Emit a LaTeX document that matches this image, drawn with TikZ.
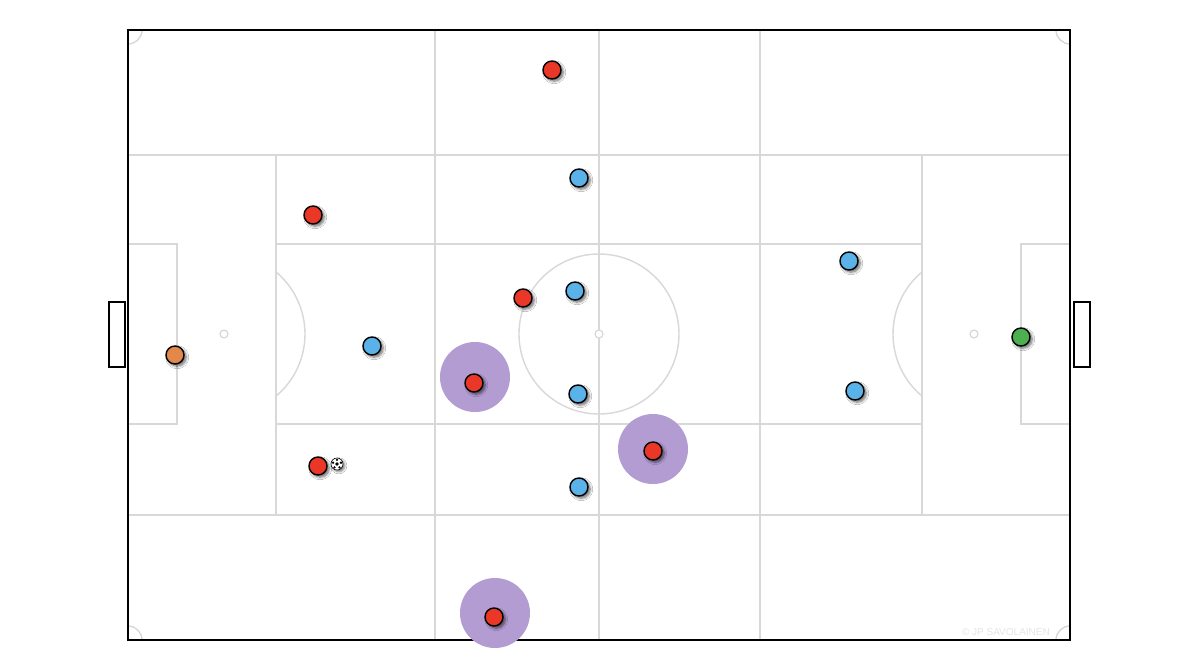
\documentclass[tikz,border=0pt]{standalone}
\usepackage{fontspec}
\setsansfont{Liberation Sans}
\usetikzlibrary{shadows.blur}
\definecolor{lineg}{RGB}{216,216,216}
\definecolor{pred}{RGB}{235,55,40}
\definecolor{pblue}{RGB}{90,178,232}
\definecolor{porange}{RGB}{226,136,74}
\definecolor{pgreen}{RGB}{76,176,80}
\definecolor{halo}{RGB}{178,156,210}
\tikzset{
  field/.style={draw=lineg, line width=1.4pt},
  outline/.style={draw=black, line width=2pt},
  player/.style={circle, draw=black, line width=1.4pt, minimum size=18pt, inner sep=0pt,
    blur shadow={shadow xshift=2.2pt, shadow yshift=-2.2pt, shadow blur radius=2.5pt, shadow blur steps=8, shadow opacity=60}},
  redp/.style={player, fill=pred},
  bluep/.style={player, fill=pblue},
  orangep/.style={player, fill=porange},
  greenp/.style={player, fill=pgreen},
  halostyle/.style={circle, fill=halo, minimum size=70pt, inner sep=0pt},
  spot/.style={circle, draw=lineg, fill=white, line width=1.2pt, minimum size=8pt, inner sep=0pt},
}
\begin{document}
\begin{tikzpicture}[x=1pt,y=-1pt]
\useasboundingbox (0,0) rectangle (1200,669);
\fill[white] (0,0) rectangle (1200,669);
% field markings
\draw[field] (128,155) -- (1070,155);
\draw[field] (128,515) -- (1070,515);
\draw[field] (128,244) -- (177,244) -- (177,424) -- (128,424);
\draw[field] (1070,244) -- (1021,244) -- (1021,424) -- (1070,424);
\draw[field] (276,244) -- (922,244);
\draw[field] (276,424) -- (922,424);
\draw[field] (276,155) -- (276,515);
\draw[field] (922,155) -- (922,515);
\draw[field] (435,30) -- (435,640);
\draw[field] (599,30) -- (599,640);
\draw[field] (760,30) -- (760,640);
\draw[field] (599,334) circle[radius=80];
\draw[field] (224,334) ++(-50:81) arc[start angle=-50, end angle=50, radius=81];
\draw[field] (974,334) ++(130:81) arc[start angle=130, end angle=230, radius=81];
% corner arcs
\draw[field] (142,30) arc[start angle=0, end angle=90, radius=14];
\draw[field] (1056,30) arc[start angle=180, end angle=90, radius=14];
\draw[field] (142,640) arc[start angle=0, end angle=-90, radius=14];
\draw[field] (1056,640) arc[start angle=180, end angle=270, radius=14];
\node[spot] (ps1) at (224,334) {};
\node[spot] (ps2) at (974,334) {};
\node[spot] (cs) at (599,334) {};
% outer line and goals
\draw[outline] (128,30) rectangle (1070,640);
\draw[outline] (109,302) rectangle (125,367);
\draw[outline] (1074,302) rectangle (1090,367);
% watermark
\node[text=black!10, font=\sffamily\fontsize{10}{11}\selectfont, anchor=east, inner sep=0pt] (wm) at (1050,632) {© JP SAVOLAINEN};
% halos
\node[halostyle] (h1) at (475,377) {};
\node[halostyle] (h2) at (653,449) {};
\node[halostyle] (h3) at (495,613) {};
% red players
\node[redp] (r1) at (552,70) {};
\node[redp] (r2) at (313,215) {};
\node[redp] (r3) at (523,298) {};
\node[redp] (r4) at (474,383) {};
\node[redp] (r5) at (653,451) {};
\node[redp] (r6) at (318,466) {};
\node[redp] (r7) at (494,617) {};
% blue players
\node[bluep] (b1) at (579,178) {};
\node[bluep] (b2) at (575,291) {};
\node[bluep] (b3) at (372,346) {};
\node[bluep] (b4) at (578,394) {};
\node[bluep] (b5) at (579,487) {};
\node[bluep] (b6) at (849,261) {};
\node[bluep] (b7) at (855,391) {};
% goalkeepers
\node[orangep] (gk1) at (175,355) {};
\node[greenp] (gk2) at (1021,337) {};
% ball
\node[circle, draw=black, fill=white, line width=0.6pt, minimum size=12pt, inner sep=0pt,
  blur shadow={shadow xshift=1.8pt, shadow yshift=-1.8pt, shadow blur radius=2pt, shadow opacity=50}] (ball) at (337,464) {};
\fill[black] (337,464) circle[radius=1.8];
\foreach \a in {-90,-18,54,126,198} {
  \fill[black] (337,464) ++(\a:4.2) circle[radius=1.3];
}
\end{tikzpicture}
\end{document}
